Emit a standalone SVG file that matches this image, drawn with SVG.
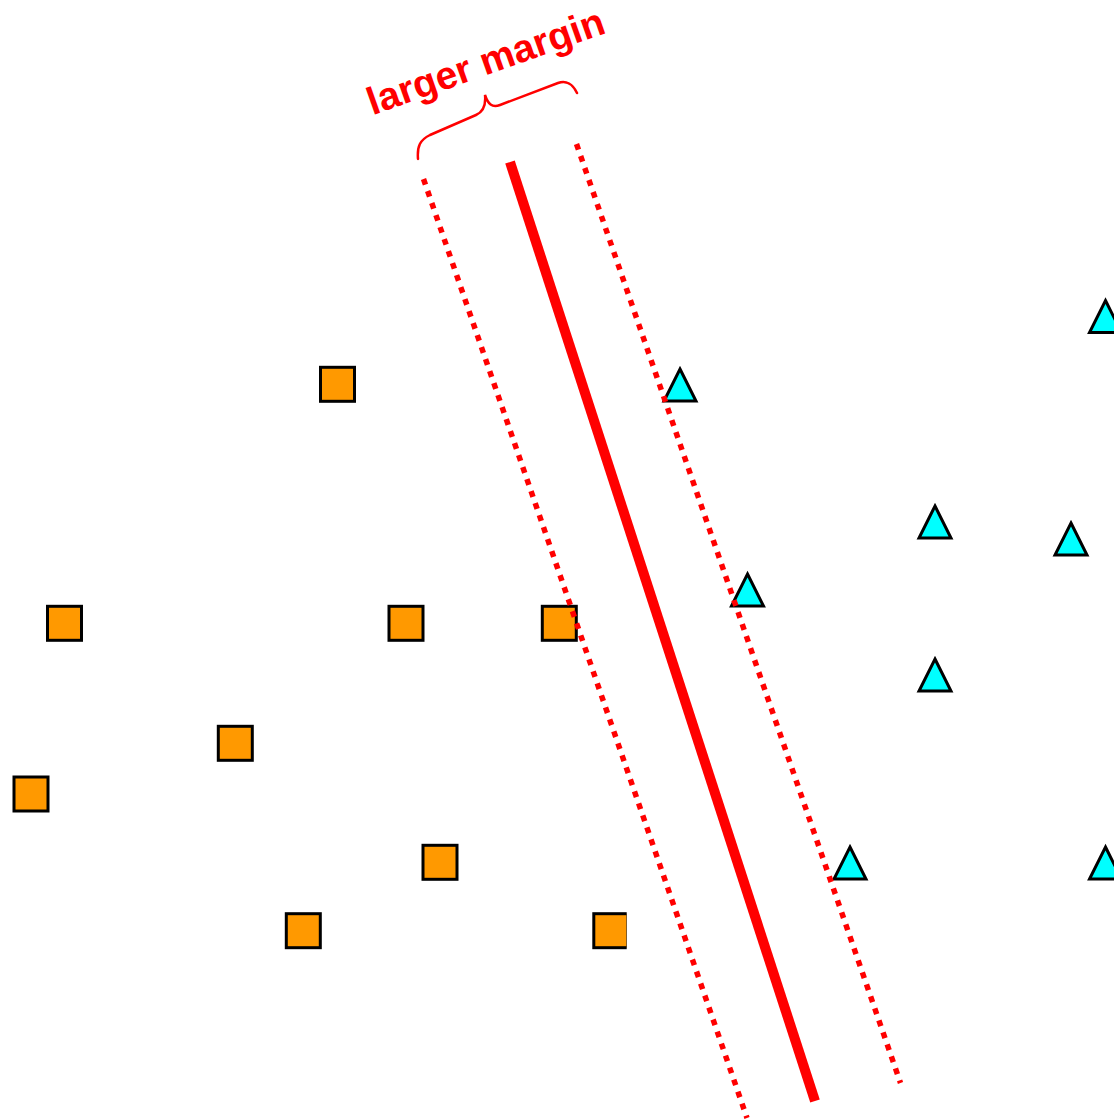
<svg xmlns="http://www.w3.org/2000/svg" xmlns:xlink="http://www.w3.org/1999/xlink" width="1114" height="1119" viewBox="0 0 1114 1119">
<style>
.sq{fill:#FF9900;stroke:#000;stroke-width:3}
.tri{fill:#00FFFF;stroke:#000;stroke-width:3;stroke-linejoin:miter;stroke-miterlimit:10}
.solid{stroke:#FF0000;stroke-width:10;fill:none}
.dot{stroke:#FF0000;stroke-width:5.5;stroke-dasharray:6 6.7;fill:none}
.brace{stroke:#FF0000;stroke-width:2.5;fill:none;stroke-linecap:round}
.lbl{font-family:"Liberation Sans",Arial,sans-serif;font-weight:bold;font-size:39px;fill:#FF0000}
</style>
<defs>
<rect id="sq" class="sq" x="-17" y="-17" width="34" height="34"/>
<polygon id="tri" class="tri" points="0,-15 16,17 -16,17"/>
<clipPath id="clipR"><rect x="0" y="0" width="626.7" height="1119"/></clipPath>
</defs>
<rect width="1114" height="1119" fill="#fff"/>
<g id="squares">
<g id="s1"><use xlink:href="#sq" x="337.5" y="384.3"/></g>
<g id="s2"><use xlink:href="#sq" x="64.5" y="623.3"/></g>
<g id="s3"><use xlink:href="#sq" x="406" y="623.3"/></g>
<g id="s4"><use xlink:href="#sq" x="559.3" y="623.3"/></g>
<g id="s5"><use xlink:href="#sq" x="235.3" y="743.3"/></g>
<g id="s6"><use xlink:href="#sq" x="31" y="794"/></g>
<g id="s7"><use xlink:href="#sq" x="440" y="862.3"/></g>
<g id="s8"><use xlink:href="#sq" x="303.3" y="930.7"/></g>
<g id="s9" clip-path="url(#clipR)"><use xlink:href="#sq" x="610.8" y="930.7"/></g>
</g>
<g id="triangles">
<g id="t1"><use xlink:href="#tri" x="680" y="384"/></g>
<g id="t2"><use xlink:href="#tri" x="1105.5" y="315.5"/></g>
<g id="t3"><use xlink:href="#tri" x="935" y="521"/></g>
<g id="t4"><use xlink:href="#tri" x="1071" y="538"/></g>
<g id="t5"><use xlink:href="#tri" x="747.5" y="589"/></g>
<g id="t6"><use xlink:href="#tri" x="935" y="674"/></g>
<g id="t7"><use xlink:href="#tri" x="850" y="862"/></g>
<g id="t8"><use xlink:href="#tri" x="1105.5" y="862"/></g>
</g>
<g id="connectors">
<line class="solid" x1="510" y1="162" x2="815" y2="1101"/>
<line class="dot" x1="423.5" y1="179" x2="747" y2="1118"/>
<line class="dot" x1="576.5" y1="144" x2="900.5" y2="1083"/>
</g>
<g id="label">
<path class="brace" d="M418,159 C417,146 420,140 430,135 L476,115 C483,112 486,105 485,95 C488,104 492,108 500,105 L558,83 C566,80 573,84 577,93"/>
<text class="lbl" text-anchor="middle" transform="translate(490,74) rotate(-19.4)">larger margin</text>
</g>
</svg>
